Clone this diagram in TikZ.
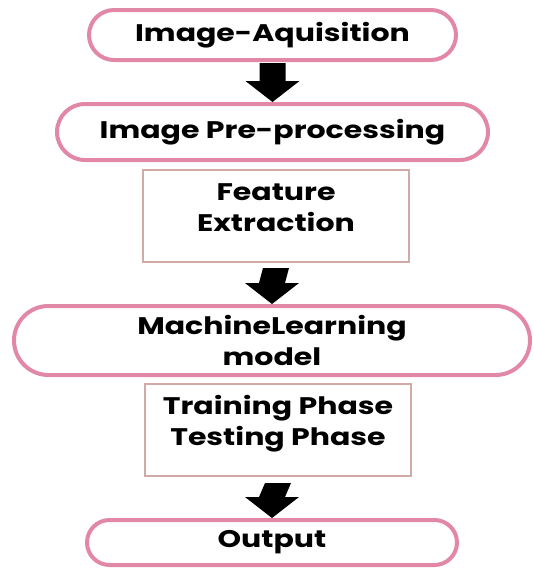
\documentclass[tikz,border=0pt]{standalone}
\usepackage{fontspec}
\newfontfamily\boxfont{Poppins}[FakeStretch=1.25]
\usetikzlibrary{shapes.misc,calc}
\definecolor{pillpink}{RGB}{226,136,166}
\definecolor{boxrose}{RGB}{210,170,165}
\begin{document}
\begin{tikzpicture}[x=1pt,y=-1pt,
    pill/.style={draw=pillpink, line width=4pt, rounded rectangle, fill=white, outer sep=0pt, inner sep=0pt},
    plainbox/.style={draw=boxrose, line width=1.2pt, rectangle, fill=white, outer sep=0pt, inner sep=0pt},
    every node/.style={align=center, font=\boxfont\bfseries\fontsize{24}{31}\selectfont},
    flowarrow/.style={fill=black, to path={
        ($(\tikztostart)+(-13,#1)$) -- ($(\tikztotarget)+(-13,-23)$) -- ($(\tikztotarget)+(-27,-23)$)
        -- ($(\tikztotarget)+(0,-2)$)
        -- ($(\tikztotarget)+(27,-23)$) -- ($(\tikztotarget)+(13,-23)$) -- ($(\tikztostart)+(13,#1)$) -- cycle}}]
    \useasboundingbox (0,0) rectangle (534,568);

    \node[pill, minimum width=367, minimum height=50] (acq) at (272.5,35) {Image-Aquisition};
    \node[pill, minimum width=431, minimum height=56] (pre) at (272.5,132) {Image Pre-processing};
    \node[plainbox, minimum width=266, minimum height=92, label={[yshift=8pt]center:{Feature\\Extraction}}] (feat) at (276,216) {};
    \node[pill, minimum width=516, minimum height=69] (ml) at (272,340.5) {MachineLearning\\model};
    \node[plainbox, minimum width=266, minimum height=92, label={[yshift=6pt]center:{Training Phase\\Testing Phase}}] (train) at (278,430) {};
    \node[pill, minimum width=370, minimum height=45] (out) at (272,542.5) {Output};

    \path[flowarrow=3] (acq.south) to (pre.north);
    \path[flowarrow=6] (feat.south) to (ml.north);
    \path[flowarrow=7] (train.south) to (out.north);

\end{tikzpicture}
\end{document}
